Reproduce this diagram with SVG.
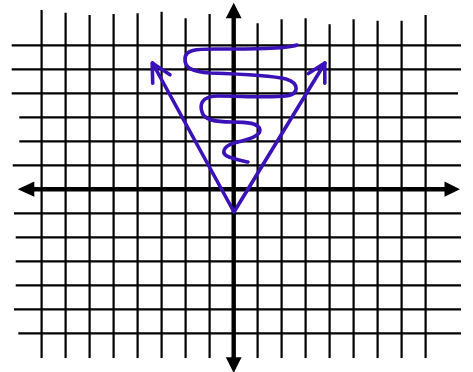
<svg xmlns="http://www.w3.org/2000/svg" width="473" height="372" viewBox="0 0 473 372">
<style>
.grid line{stroke:#000;stroke-width:2.2}
.axis{stroke:#000;stroke-width:4.4;fill:none}
.head{fill:#000;stroke:none}
.pen{stroke:#3a12b8;stroke-width:3.6;fill:none;stroke-linecap:round;stroke-linejoin:round}
</style>
<rect width="473" height="372" fill="#fff"/>
<g id="grid" class="grid">
<line x1="41.6" y1="10" x2="41.6" y2="358"/>
<line x1="65.6" y1="12.7" x2="65.6" y2="358"/>
<line x1="89.6" y1="15" x2="89.6" y2="358"/>
<line x1="113.6" y1="14" x2="113.6" y2="358"/>
<line x1="137.6" y1="13.3" x2="137.6" y2="358"/>
<line x1="161.6" y1="11.7" x2="161.6" y2="358"/>
<line x1="185.6" y1="18.3" x2="185.6" y2="358"/>
<line x1="209.6" y1="14" x2="209.6" y2="358"/>
<line x1="257.6" y1="23.3" x2="257.6" y2="358"/>
<line x1="281.6" y1="19.3" x2="281.6" y2="358"/>
<line x1="305.6" y1="18.3" x2="305.6" y2="358"/>
<line x1="329.6" y1="24.3" x2="329.6" y2="358"/>
<line x1="353.6" y1="19.3" x2="353.6" y2="358"/>
<line x1="377.6" y1="20.7" x2="377.6" y2="358"/>
<line x1="401.6" y1="20.7" x2="401.6" y2="358"/>
<line x1="425.6" y1="15" x2="425.6" y2="358"/>
<line x1="11.7" y1="45.3" x2="461" y2="45.3"/>
<line x1="11.7" y1="69.3" x2="461" y2="69.3"/>
<line x1="11.7" y1="93.3" x2="458" y2="93.3"/>
<line x1="19.3" y1="117.3" x2="461" y2="117.3"/>
<line x1="19.3" y1="141.3" x2="461" y2="141.3"/>
<line x1="12.7" y1="165.3" x2="461" y2="165.3"/>
<line x1="14" y1="213.3" x2="461" y2="213.3"/>
<line x1="15.7" y1="237.3" x2="461" y2="237.3"/>
<line x1="15.7" y1="261.3" x2="461" y2="261.3"/>
<line x1="15.7" y1="285.3" x2="461" y2="285.3"/>
<line x1="14" y1="309.3" x2="461" y2="309.3"/>
<line x1="18.3" y1="333.3" x2="461" y2="333.3"/>
</g>
<g id="axes">
<line class="axis" x1="30" y1="189.3" x2="448" y2="189.3"/>
<line class="axis" x1="233.7" y1="14" x2="233.7" y2="360"/>
<polygon class="head" points="17.7,189.3 34.3,181.6 34.3,196.8"/>
<polygon class="head" points="460,189.3 444.5,181.6 444.5,196.8"/>
<polygon class="head" points="233.7,2.7 225.8,18.3 241.6,18.3"/>
<polygon class="head" points="233.7,373 225.8,357.3 241.6,357.3"/>
</g>
<g id="figure">
<path class="pen" d="M152.5,63 L234,212 L325,63"/>
<path class="pen" d="M152.7,83.3 L152.2,63 L170,74.7"/>
<path class="pen" d="M324.8,83.3 L324.8,63 L308.3,73.5"/>
<path class="pen" d="M297,45 C285,49 250,49 215,49 C195,49 186,50 185,58 C184,68 193,72 210,73 C240,74 270,75 286,79 C299,83 300,94 286,96 C270,98 240,96 218,96 C200,96 200,106 202,112 C204,120 215,122 232,122 C247,122 259,123 260,130 C260,137 245,140 234,143 C222,147 221,154 229,157 C237,160 243,161 248,162"/>
</g>
</svg>
